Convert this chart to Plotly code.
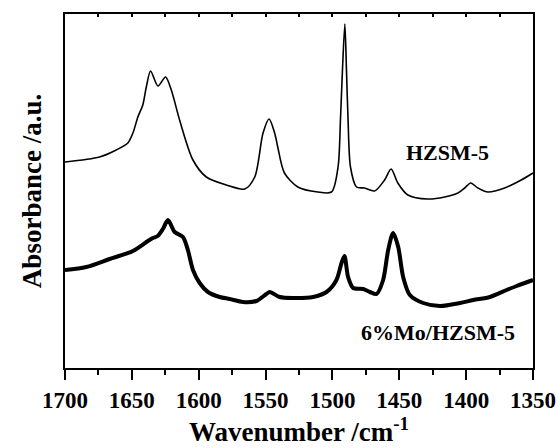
import plotly.graph_objects as go

# FTIR spectra (pyridine region), absorbance in arbitrary units
hzsm5_wavenumber = [1700, 1674.2, 1661.7, 1653, 1649.2, 1645.5, 1641.8, 1639.2, 1636, 1630.5,
                    1624.8, 1620.5, 1614.3, 1604.3, 1594.3, 1579.3, 1565.6, 1558.1, 1551.9, 1547.4,
                    1543.2, 1540.9, 1535.9, 1525.9, 1511, 1500.7, 1495.8, 1494, 1492.5, 1490.7,
                    1489.5, 1488.3, 1486.5, 1482, 1476, 1468.5, 1461, 1456.1, 1451.1, 1443.6,
                    1428.6, 1416.1, 1406.1, 1401.1, 1396.6, 1391.2, 1383.7, 1371.2, 1358.8, 1350]
hzsm5_absorbance = [2.06, 2.11, 2.18, 2.25, 2.35, 2.51, 2.63, 2.81, 2.97, 2.82,
                    2.91, 2.78, 2.48, 2.08, 1.91, 1.83, 1.79, 1.91, 2.35, 2.49,
                    2.35, 2.21, 1.95, 1.81, 1.76, 1.76, 2.01, 2.48, 2.98, 3.44,
                    2.98, 2.48, 2.01, 1.81, 1.80, 1.77, 1.88, 1.99, 1.85, 1.73,
                    1.69, 1.71, 1.75, 1.80, 1.85, 1.80, 1.76, 1.80, 1.88, 1.95]

mo_wavenumber = [1700, 1684.1, 1666.7, 1649.2, 1638, 1634.3, 1630.7, 1626.8, 1623, 1618,
                 1611.8, 1608.1, 1604.3, 1599.3, 1593.1, 1584.3, 1576.8, 1566.9, 1556.9, 1549.4,
                 1546.9, 1539.4, 1529.5, 1514.5, 1504.4, 1497, 1493.2, 1491, 1488.3, 1484.5,
                 1477, 1472, 1467, 1462.1, 1458.3, 1454.6, 1450.8, 1447.1, 1442.1, 1432.1,
                 1419.6, 1404.6, 1394.7, 1382.2, 1369.7, 1362.2, 1350]
mo_absorbance = [0.98, 1.01, 1.09, 1.17, 1.27, 1.30, 1.32, 1.39, 1.48, 1.36,
                 1.31, 1.18, 0.98, 0.85, 0.76, 0.71, 0.69, 0.66, 0.67, 0.74,
                 0.76, 0.71, 0.70, 0.71, 0.76, 0.88, 1.05, 1.12, 0.91, 0.80,
                 0.79, 0.76, 0.74, 0.88, 1.18, 1.35, 1.21, 0.91, 0.73, 0.65,
                 0.62, 0.65, 0.68, 0.71, 0.78, 0.82, 0.88]

x_range = [1700, 1350]
y_range = [0, 3.54]
font_family = "Liberation Serif"

fig = go.Figure()
fig.add_trace(go.Scatter(x=hzsm5_wavenumber, y=hzsm5_absorbance, mode="lines",
                         line=dict(color="black", width=1.6, shape="spline", smoothing=0.8),
                         name="HZSM-5", showlegend=False))
fig.add_trace(go.Scatter(x=mo_wavenumber, y=mo_absorbance, mode="lines",
                         line=dict(color="black", width=4, shape="spline", smoothing=0.8),
                         name="6%Mo/HZSM-5", showlegend=False))
# invisible trace so the top axis is drawn
fig.add_trace(go.Scatter(x=x_range, y=[None, None], xaxis="x2", mode="lines",
                         showlegend=False, hoverinfo="skip"))

fig.update_layout(
    width=558, height=448,
    margin=dict(l=65, r=25, t=14, b=80, autoexpand=False),
    plot_bgcolor="white", paper_bgcolor="white",
    font=dict(family=font_family, color="black", size=20),
    xaxis=dict(
        range=x_range, showgrid=False, zeroline=False, automargin=False,
        showline=True, linecolor="black", linewidth=2,
        ticks="outside", ticklen=10, tickwidth=2, tickcolor="black",
        dtick=50, tick0=1350,
        minor=dict(dtick=25, ticks="outside", ticklen=5, tickwidth=2, tickcolor="black"),
        tickfont=dict(family=font_family, size=23, color="black", weight="bold"),
        title=dict(text="<b>Wavenumber /cm<sup>-1</sup></b>", standoff=6,
                   font=dict(family=font_family, size=27, color="black")),
    ),
    xaxis2=dict(
        range=x_range, overlaying="x", side="top", showgrid=False, zeroline=False,
        automargin=False,
        showline=True, linecolor="black", linewidth=2,
        ticks="inside", ticklen=3, tickwidth=1.5, tickcolor="black",
        dtick=25, tick0=1350, showticklabels=False,
    ),
    yaxis=dict(
        range=y_range, showgrid=False, zeroline=False, automargin=False,
        showline=True, mirror=True, linecolor="black", linewidth=2,
        ticks="", showticklabels=False,
        title=dict(text="<b>Absorbance /a.u.</b>", standoff=14,
                   font=dict(family=font_family, size=27, color="black")),
    ),
    annotations=[
        dict(x=1413.6, y=2.16, xref="x", yref="y", text="<b>HZSM-5</b>", showarrow=False,
             font=dict(family=font_family, size=22, color="black")),
        dict(x=1421, y=0.36, xref="x", yref="y", text="<b>6%Mo/HZSM-5</b>", showarrow=False,
             font=dict(family=font_family, size=22, color="black")),
    ],
)

fig.write_html("out.html")
